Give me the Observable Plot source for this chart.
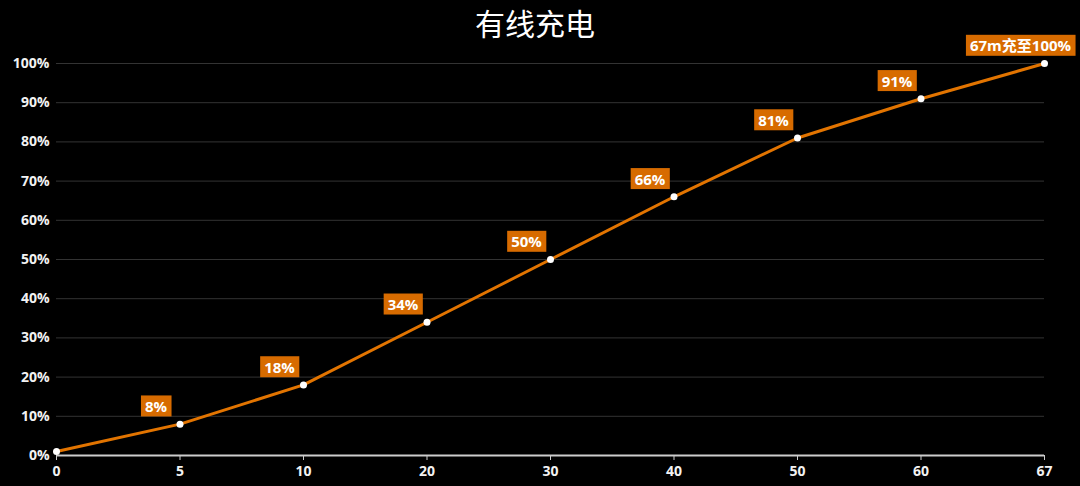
<!DOCTYPE html>
<html>
<head>
<meta charset="utf-8">
<script src="https://cdn.jsdelivr.net/npm/d3@7"></script>
<script src="https://cdn.jsdelivr.net/npm/@observablehq/plot@0.6"></script>
<style>
  html, body { margin: 0; padding: 0; background: #000; }
  body { width: 1080px; height: 486px; overflow: hidden; font-family: "Open Sans", "Noto Sans CJK SC", sans-serif; }
  #title { height: 44px; line-height: 44px; text-align: center; color: #fff; font-size: 30px; font-family: "Noto Sans CJK SC", sans-serif; padding-right: 10px; box-sizing: border-box; }
  #chart svg { display: block; background: #000; overflow: visible; }
</style>
</head>
<body>
<div id="title">有线充电</div>
<div id="chart"></div>
<script>
const minutes = ["0", "5", "10", "20", "30", "40", "50", "60", "67"];
const percent = [1, 8, 18, 34, 50, 66, 81, 91, 100];
const labels = ["", "8%", "18%", "34%", "50%", "66%", "81%", "91%", "67m充至100%"];
const yTicks = [0, 10, 20, 30, 40, 50, 60, 70, 80, 90, 100];

const data = minutes.map((m, i) => ({ m, p: percent[i], label: labels[i] }));
const labelData = data.filter(d => d.label);

const chart = Plot.plot({
  width: 1080,
  height: 442,
  marginTop: 19,
  marginBottom: 31,
  marginLeft: 56,
  marginRight: 36,
  style: { background: "#000", color: "#eee", fontFamily: "'Open Sans', 'Noto Sans CJK SC', sans-serif", overflow: "visible" },
  x: { type: "point", domain: minutes, padding: 0, round: false },
  y: { domain: [0, 100] },
  marks: [
    Plot.gridY(yTicks, { stroke: "#333", strokeOpacity: 1, strokeWidth: 1 }),
    Plot.axisY(yTicks, { tickSize: 0, tickPadding: 7, tickFormat: d => d + "%", fontSize: 14, fontWeight: "bold", fill: "#f2f2f2", label: null }),
    Plot.ruleY([0], { stroke: "#ccc", strokeWidth: 2 }),
    Plot.axisX({ tickSize: 5, tickPadding: 6, stroke: "#ccc", fontSize: 14, fontWeight: "bold", fill: "#f2f2f2", label: null }),
    Plot.line(data, { x: "m", y: "p", stroke: "#e27400", strokeWidth: 3 }),
    Plot.dot(data, { x: "m", y: "p", r: 3.5, fill: "#fff", stroke: "none" }),
    Plot.text(labelData, { x: "m", y: "p", text: "label", dx: -24, dy: -17, fill: "#fff", fontSize: 15, fontWeight: "bold", textAnchor: "middle" })
  ]
});

document.getElementById("chart").appendChild(chart);

// add orange background boxes behind label texts
const textGroups = chart.querySelectorAll('g[aria-label="text"]');
textGroups.forEach(g => {
  g.querySelectorAll("text").forEach(t => {
    const bb = t.getBBox();
    const rect = document.createElementNS("http://www.w3.org/2000/svg", "rect");
    rect.setAttribute("x", bb.x - 4);
    rect.setAttribute("y", bb.y + bb.height / 2 - 10.5);
    rect.setAttribute("width", bb.width + 8);
    rect.setAttribute("height", 21);
    rect.setAttribute("fill", "#d76b00");
    if (t.getAttribute("transform")) rect.setAttribute("transform", t.getAttribute("transform"));
    g.insertBefore(rect, t);
  });
});
</script>
</body>
</html>
